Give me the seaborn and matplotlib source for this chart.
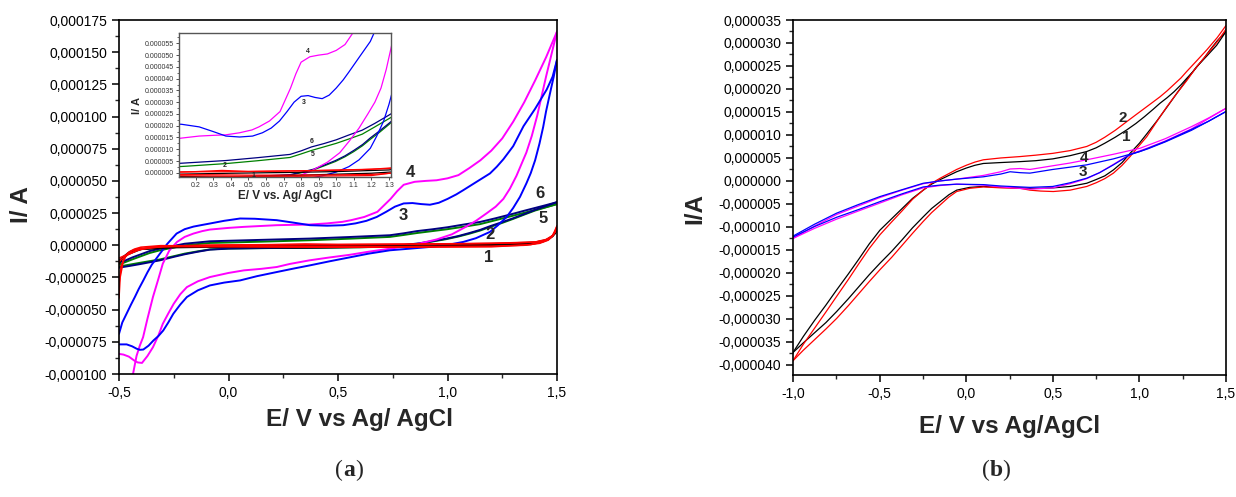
import matplotlib
matplotlib.use("Agg")
import matplotlib.pyplot as plt
import numpy as np
import pandas as pd
import seaborn as sns
from matplotlib.ticker import MultipleLocator, FuncFormatter
from matplotlib.offsetbox import TextArea, HPacker, AnchoredOffsetbox

# ---------------- Panel (a) data : E in V, I in microampere ----------------
# curve 1 (black)
a1_fwd_E = [-0.50, -0.48, -0.45, -0.40, -0.30, -0.10, 0.10, 0.30, 0.60, 0.90, 1.20, 1.35, 1.42, 1.46, 1.49, 1.50]
a1_fwd_I = [-14, -9, -5, -3, -1.8, -1.3, -1.5, -1.8, -1.5, -0.8, -0.2, 0.5, 2, 4.5, 9, 12]
a1_rev_E = [1.50, 1.48, 1.45, 1.40, 1.30, 1.00, 0.70, 0.40, 0.10, -0.20, -0.40, -0.46, -0.50]
a1_rev_I = [12, 7, 4, 2.2, 1.2, 0.5, 0.1, -0.2, -0.6, -1.0, -3, -7, -12]
# curve 2 (red, two cycles)
a2_fwd_E = [-0.50, -0.495, -0.48, -0.46, -0.43, -0.40, -0.31, -0.10, 0.20, 0.50, 0.80, 1.00, 1.20, 1.35, 1.42, 1.46, 1.48, 1.50]
a2_fwd_I = [-41, -25, -12, -6, -3, -1.5, -0.3, -0.5, -0.8, -1.0, -1.0, -0.9, -0.7, 0, 1.5, 4, 7.5, 15]
a2_rev_E = [1.50, 1.49, 1.47, 1.44, 1.40, 1.30, 1.10, 0.80, 0.50, 0.35, 0.20, 0.00, -0.20, -0.35, -0.42, -0.46, -0.49, -0.50]
a2_rev_I = [15, 10, 5.5, 3.5, 2.5, 1.8, 1.2, 0.8, 0.6, 1.0, 0.5, 0.2, -0.3, -1.5, -4, -7.5, -11, -13]
a2b_fwd_E = [-0.50, -0.49, -0.47, -0.44, -0.40, -0.30, 0.00, 0.40, 0.80, 1.20, 1.38, 1.44, 1.48, 1.50]
a2b_fwd_I = [-30, -16, -8, -4, -2.5, -1.0, -1.2, -1.5, -1.5, -1.2, 0.5, 3, 7, 13]
a2b_rev_E = [1.50, 1.48, 1.45, 1.40, 1.20, 0.90, 0.50, 0.20, -0.10, -0.30, -0.40, -0.46, -0.50]
a2b_rev_I = [13, 7.5, 4.5, 2.5, 1.5, 1.0, 0.5, 0.4, 0.0, -1.0, -3, -7, -10]
# curve 3 (blue)
a3_fwd_E = [-0.50, -0.485, -0.465, -0.445, -0.427, -0.41, -0.389, -0.37, -0.35, -0.313, -0.28, -0.237, -0.20, -0.16,
            -0.12, -0.085, -0.02, 0.053, 0.12, 0.22, 0.30, 0.372, 0.45, 0.524, 0.58, 0.63, 0.677, 0.72, 0.76, 0.80,
            0.84, 0.88, 0.92, 0.96, 1.00, 1.04, 1.072, 1.13, 1.194, 1.225, 1.255, 1.30, 1.347, 1.40, 1.453, 1.48, 1.50]
a3_fwd_I = [-68.8, -60, -53, -46, -40, -34, -27.3, -21, -15, -6.5, 1, 9.1, 12.5, 14.5,
            15.8, 16.9, 19, 20.8, 20.6, 19.5, 17.5, 15.6, 15.2, 15.6, 17, 19, 22, 26, 30, 32.5,
            32.8, 32, 31.5, 33, 36, 39.5, 42.8, 49, 55.8, 61, 66.8, 77, 92.5, 106, 121, 131, 144]
a3_rev_E = [1.50, 1.485, 1.468, 1.45, 1.437, 1.42, 1.40, 1.38, 1.36, 1.331, 1.30, 1.27, 1.23, 1.194, 1.13, 1.072,
            1.00, 0.92, 0.83, 0.737, 0.64, 0.55, 0.46, 0.372, 0.30, 0.22, 0.13, 0.053, -0.02, -0.085, -0.14, -0.19,
            -0.22, -0.252, -0.275, -0.298, -0.32, -0.343, -0.365, -0.389, -0.405, -0.419, -0.44, -0.465, -0.50]
a3_rev_I = [144, 131, 118, 104, 92, 79, 66, 56, 48, 37.6, 29, 22, 15.5, 10.4, 5.5, 2.6,
            0.3, -1.3, -2.6, -3.9, -6.5, -9.5, -12.5, -15.6, -18, -20.8, -24, -27.3, -29, -31.2, -35, -40.2,
            -46, -53.2, -60, -66.2, -70.5, -74, -78, -81, -81.2, -80.4, -78.5, -77, -77]
# curve 4 (magenta)
a4_fwd_E = [-0.44, -0.436, -0.42, -0.405, -0.39, -0.37, -0.345, -0.32, -0.30, -0.27, -0.235, -0.20, -0.16, -0.12,
            -0.085, 0.00, 0.07, 0.15, 0.22, 0.30, 0.37, 0.45, 0.52, 0.56, 0.62, 0.68, 0.71, 0.74, 0.77, 0.80, 0.85,
            0.90, 0.95, 1.00, 1.05, 1.10, 1.15, 1.20, 1.25, 1.30, 1.35, 1.40, 1.45, 1.50]
a4_fwd_I = [-112, -100, -86, -78, -71.4, -57, -40.2, -26, -14.3, -4, 2.6, 6.5, 9.1, 11,
            12.2, 13.5, 14.3, 15, 15.6, 15.9, 16.1, 17, 18.2, 19.5, 22, 26, 31, 36, 42, 47, 49.3,
            50, 50.5, 52, 54.5, 60, 66, 73.5, 83, 96, 111, 128, 146, 166]
a4_rev_E = [1.50, 1.47, 1.45, 1.43, 1.41, 1.385, 1.36, 1.335, 1.315, 1.285, 1.255, 1.22, 1.18, 1.13, 1.08, 1.02,
            0.95, 0.85, 0.74, 0.64, 0.55, 0.46, 0.37, 0.28, 0.22, 0.15, 0.07, 0.00, -0.085, -0.14, -0.19, -0.22,
            -0.25, -0.275, -0.30, -0.32, -0.345, -0.37, -0.395, -0.415, -0.43, -0.455, -0.48, -0.50]
a4_rev_I = [166, 145, 131, 116, 101, 85, 72, 62, 54, 44, 36, 30, 25, 19, 14, 8.5,
            4.5, 0.5, -2.6, -5, -7.5, -9.5, -11.7, -14.5, -16.9, -18.3, -19.5, -21.5, -24.7, -28, -32.5, -38,
            -45.4, -53, -61, -70, -79.2, -86, -91.4, -91, -89.6, -86.5, -84.9, -84.4]
# curve 5 (green)
a5_up_E = [1.50, 1.45, 1.40, 1.35, 1.30, 1.22, 1.148, 1.07, 1.00, 0.93, 0.86, 0.80, 0.737, 0.55, 0.372, 0.15,
           -0.085, -0.20, -0.313, -0.36, -0.40, -0.44, -0.50]
a5_up_I = [32, 29.7, 27.5, 25.2, 23, 19.5, 16.4, 14.3, 12.5, 11, 9.5, 8, 6.5, 5.1, 3.9, 2.8,
           1.8, 0.0, -3.9, -6, -8.5, -11, -15]
a5_lo_E = [-0.50, -0.45, -0.40, -0.313, -0.25, -0.20, -0.14, -0.085, 0.00, 0.15, 0.372, 0.60, 0.737, 0.80, 0.87,
           0.93, 0.996, 1.05, 1.10, 1.15, 1.194, 1.25, 1.30, 1.35, 1.40, 1.45, 1.50]
a5_lo_I = [-16.5, -15, -13.5, -11, -8.5, -6.5, -4.7, -3.2, -2.5, -2.2, -2.0, -1.5, -1.0, 0.0, 1.2,
           2.9, 4.8, 6.8, 9, 11.5, 14.2, 17.4, 20.5, 23.8, 27, 29.5, 32]
# curve 6 (navy)
a6_up_E = [1.50, 1.45, 1.40, 1.35, 1.30, 1.22, 1.148, 1.07, 1.00, 0.93, 0.86, 0.80, 0.737, 0.55, 0.372, 0.15,
           -0.085, -0.20, -0.313, -0.36, -0.40, -0.44, -0.48, -0.50]
a6_up_I = [33.5, 31.2, 29, 26.8, 24.5, 21, 18.1, 16, 14, 12.4, 11, 9.3, 7.8, 6.4, 5.2, 4.2,
           3.1, 1.2, -2.6, -4.5, -7, -9.5, -12.5, -13]
a6_lo_E = [-0.50, -0.45, -0.40, -0.313, -0.25, -0.20, -0.14, -0.085, 0.00, 0.15, 0.372, 0.60, 0.737, 0.80, 0.87,
           0.93, 0.996, 1.05, 1.10, 1.15, 1.194, 1.25, 1.30, 1.35, 1.40, 1.45, 1.50]
a6_lo_I = [-17.4, -16, -14.5, -11.7, -9, -7, -5, -3.4, -2.6, -2.2, -1.8, -1.3, -0.8, 0.2, 1.5,
           3.2, 5.2, 7.2, 9.5, 12, 14.8, 18, 21, 24.2, 27.5, 30.5, 33.5]

# ---------------- Panel (b) data ----------------
b1_up_E = [-1.00, -0.94, -0.875, -0.81, -0.748, -0.68, -0.62, -0.56, -0.498, -0.43, -0.37, -0.31, -0.248, -0.20,
           -0.15, -0.10, -0.055, 0.00, 0.05, 0.099, 0.20, 0.311, 0.40, 0.50, 0.60, 0.696, 0.75, 0.80, 0.86, 0.927,
           0.98, 1.03, 1.08, 1.119, 1.16, 1.20, 1.24, 1.273, 1.31, 1.34, 1.375, 1.408, 1.45, 1.50]
b1_up_I = [-37.3, -33.8, -30.3, -27, -23.7, -20.2, -17, -13.7, -10.7, -8.2, -6, -3.8, -2.0, -0.7,
           0.3, 1.2, 2.0, 2.8, 3.4, 3.8, 4.0, 4.2, 4.4, 4.8, 5.5, 6.4, 7.2, 8.2, 9.5, 11.1,
           12.5, 14, 15.6, 16.9, 18.1, 19.4, 20.9, 22.3, 23.8, 25.2, 26.8, 28.5, 30.5, 32.5]
b1_lo_E = [1.50, 1.446, 1.39, 1.33, 1.273, 1.215, 1.158, 1.10, 1.042, 1.00, 0.946, 0.90, 0.85, 0.80, 0.75, 0.696,
           0.60, 0.503, 0.43, 0.368, 0.30, 0.20, 0.099, 0.02, -0.055, -0.10, -0.15, -0.20, -0.248, -0.31, -0.37,
           -0.43, -0.498, -0.56, -0.62, -0.68, -0.748, -0.81, -0.875, -0.94, -1.00]
b1_lo_I = [32.5, 29.5, 27.2, 24.8, 22.0, 19.0, 16.0, 13.0, 10.2, 8.2, 6.0, 4.0, 2.4, 1.1, 0.3, -0.5,
           -1.2, -1.5, -1.6, -1.6, -1.5, -1.4, -1.2, -1.4, -2.0, -3.0, -4.5, -6.0, -7.8, -10.2, -12.8,
           -15.3, -17.9, -20.4, -23, -25.6, -28.4, -30.8, -33, -35.2, -37.3]
b2_up_E = [-1.00, -0.94, -0.875, -0.81, -0.748, -0.68, -0.62, -0.56, -0.498, -0.43, -0.37, -0.31, -0.248, -0.20,
           -0.15, -0.10, -0.055, 0.00, 0.05, 0.099, 0.20, 0.311, 0.40, 0.50, 0.60, 0.696, 0.75, 0.80, 0.86, 0.927,
           0.98, 1.03, 1.08, 1.119, 1.16, 1.20, 1.24, 1.273, 1.33, 1.389, 1.45, 1.50]
b2_up_I = [-39.1, -35.5, -32, -28.5, -25.1, -21.4, -18, -14.7, -11.7, -8.9, -6.5, -4.0, -2.0, -0.5,
           0.6, 1.6, 2.5, 3.4, 4.1, 4.6, 5.0, 5.3, 5.6, 6.0, 6.6, 7.5, 8.4, 9.5, 11.0, 12.9,
           14.4, 15.8, 17.2, 18.3, 19.6, 21, 22.4, 23.8, 26.1, 28.5, 31.2, 33.8]
b2_lo_E = [1.50, 1.45, 1.39, 1.33, 1.273, 1.215, 1.158, 1.10, 1.042, 0.99, 0.946, 0.90, 0.85, 0.80, 0.75, 0.696,
           0.60, 0.503, 0.43, 0.368, 0.311, 0.20, 0.099, 0.02, -0.055, -0.10, -0.15, -0.20, -0.248, -0.31, -0.37,
           -0.43, -0.498, -0.56, -0.62, -0.68, -0.748, -0.81, -0.875, -0.94, -1.00]
b2_lo_I = [33, 30.3, 27.5, 24.8, 21.8, 19, 16.1, 12.9, 9.6, 7.3, 5.3, 3.4, 1.7, 0.5, -0.4, -1.2,
           -2.0, -2.3, -2.2, -2.0, -1.6, -1.5, -1.3, -1.6, -2.3, -3.5, -5.2, -6.9, -8.8, -11.4, -14,
           -16.6, -19.3, -21.9, -24.5, -27.1, -29.9, -32.2, -34.5, -36.8, -39.1]
b3_up_E = [-1.00, -0.875, -0.748, -0.62, -0.498, -0.37, -0.248, -0.15, -0.055, 0.099, 0.20, 0.253, 0.311, 0.368, 0.50,
           0.60, 0.696, 0.85, 1.003, 1.15, 1.30, 1.40, 1.50]
b3_up_I = [-12.0, -9.4, -7.0, -5.1, -3.4, -1.9, -0.5, 0.0, 0.4, 0.9, 1.5, 2.0, 1.8, 1.7, 2.5,
           3.0, 3.5, 4.8, 6.4, 8.6, 11.2, 13, 15.1]
b3_lo_E = [1.50, 1.40, 1.30, 1.15, 1.05, 0.946, 0.85, 0.77, 0.696, 0.60, 0.50, 0.368, 0.20, 0.099, -0.055, -0.15,
           -0.248, -0.37, -0.498, -0.62, -0.748, -0.875, -1.00]
b3_lo_I = [15.1, 13, 11, 8.5, 7.0, 5.7, 3.5, 1.8, 0.6, -0.4, -1.2, -1.4, -1.1, -0.8, -0.7, -0.9,
           -1.3, -2.8, -4.5, -6.2, -7.9, -9.9, -12.2]
b4_up_E = b3_up_E
b4_up_I = [-12.5, -9.8, -7.3, -5.4, -3.6, -2.0, -0.6, 0.0, 0.4, 1.2, 2.0, 2.6, 2.7, 2.5, 3.3,
           3.9, 4.6, 5.8, 7.1, 9.2, 11.8, 13.7, 15.8]
b4_lo_E = b3_lo_E
b4_lo_I = [15.8, 13.6, 11.3, 8.7, 7.2, 5.8, 3.6, 1.8, 0.5, -0.6, -1.5, -1.8, -1.3, -0.9, -0.7, -1.0,
           -1.5, -3.0, -4.8, -6.5, -8.3, -10.3, -12.5]

# curve labels (text annotations, E, I in microampere)
a_labels = [("4", 0.829, 56.9), ("3", 0.797, 23.4), ("6", 1.422, 40.5), ("5", 1.436, 21.0),
            ("2", 1.194, 8.6), ("1", 1.189, -9.3)]
inset_labels = [("4", 0.84, 51.6), ("3", 0.817, 29.9), ("6", 0.86, 13.2), ("5", 0.865, 7.9),
                ("2", 0.367, 3.0), ("1", 0.527, -1.3)]
b_labels = [("2", 0.905, 13.7), ("1", 0.923, 9.6), ("4", 0.68, 5.0), ("3", 0.674, 2.0)]


def build(segments):
    rows = []
    for curve, seg, E, I in segments:
        for k, (e, i) in enumerate(zip(E, I)):
            rows.append({"curve": curve, "seg": seg, "k": k, "E": e, "I": i * 1e-6})
    return pd.DataFrame(rows)


df_a = build([
    ("5", "5u", a5_up_E, a5_up_I), ("5", "5l", a5_lo_E, a5_lo_I),
    ("6", "6u", a6_up_E, a6_up_I), ("6", "6l", a6_lo_E, a6_lo_I),
    ("4", "4f", a4_fwd_E, a4_fwd_I), ("4", "4r", a4_rev_E, a4_rev_I),
    ("3", "3f", a3_fwd_E, a3_fwd_I), ("3", "3r", a3_rev_E, a3_rev_I),
    ("1", "1f", a1_fwd_E, a1_fwd_I), ("1", "1r", a1_rev_E, a1_rev_I),
    ("2", "2f", a2_fwd_E, a2_fwd_I), ("2", "2r", a2_rev_E, a2_rev_I),
    ("2", "2bf", a2b_fwd_E, a2b_fwd_I), ("2", "2br", a2b_rev_E, a2b_rev_I),
])
pal_a = {"1": "#000000", "2": "#ff0000", "3": "#0000ff", "4": "#ff00ff", "5": "#008000", "6": "#000080"}
order_a = ["5", "6", "4", "3", "1", "2"]

df_b = build([
    ("1", "1u", b1_up_E, b1_up_I), ("1", "1l", b1_lo_E, b1_lo_I),
    ("2", "2u", b2_up_E, b2_up_I), ("2", "2l", b2_lo_E, b2_lo_I),
    ("4", "4u", b4_up_E, b4_up_I), ("4", "4l", b4_lo_E, b4_lo_I),
    ("3", "3u", b3_up_E, b3_up_I), ("3", "3l", b3_lo_E, b3_lo_I),
])
pal_b = {"1": "#000000", "2": "#ff0000", "3": "#0000ff", "4": "#ff00ff"}
order_b = ["1", "2", "4", "3"]

sns.set_theme(style="ticks")
plt.rcParams["font.family"] = ["Liberation Sans", "DejaVu Sans"]
plt.rcParams["axes.linewidth"] = 1.2
plt.rcParams["lines.solid_joinstyle"] = "round"

fig = plt.figure(figsize=(12.36, 4.97), dpi=100)
fig.patch.set_facecolor("white")


def comma_fmt(dec):
    def f(v, pos):
        if abs(v) < 1e-12:
            v = 0.0
        return f"{v:.{dec}f}".replace(".", ",")
    return FuncFormatter(f)


def dot_fmt(dec):
    def f(v, pos):
        if abs(v) < 1e-12:
            v = 0.0
        return f"{v:.{dec}f}"
    return FuncFormatter(f)


def style_axes(ax):
    for s in ax.spines.values():
        s.set_visible(True)
        s.set_color("black")
        s.set_linewidth(1.2)
    ax.tick_params(which="major", direction="out", length=5, width=1.1, labelsize=10, colors="black",
                   top=False, right=False)
    ax.tick_params(which="minor", direction="out", length=3, width=1.0, top=False, right=False)
    ax.set_facecolor("white")
    ax.grid(False)


# ---------------- Panel (a) ----------------
axA = fig.add_axes([119 / 1236, 1 - 374 / 497, 438 / 1236, 354 / 497])
sns.lineplot(data=df_a, x="E", y="I", hue="curve", hue_order=order_a, units="seg", estimator=None,
             sort=False, palette=pal_a, lw=1.4, legend=False, ax=axA)
for ln in axA.get_lines():
    if matplotlib.colors.to_hex(ln.get_color()) == "#ff0000":
        ln.set_linewidth(1.15)
axA.set_xlim(-0.5, 1.5)
axA.set_ylim(-0.0001, 0.000175)
axA.xaxis.set_major_locator(MultipleLocator(0.5))
axA.xaxis.set_minor_locator(MultipleLocator(0.25))
axA.yaxis.set_major_locator(MultipleLocator(0.000025))
axA.yaxis.set_minor_locator(MultipleLocator(0.0000125))
axA.xaxis.set_major_formatter(comma_fmt(1))
axA.yaxis.set_major_formatter(comma_fmt(6))
style_axes(axA)
axA.set_xlabel("E/ V vs Ag/ AgCl", fontsize=17.5, fontweight="bold")
axA.set_ylabel("I/ A", fontsize=17.5, fontweight="bold")
axA.xaxis.set_label_coords(0.548, -0.097)
axA.yaxis.set_label_coords(-0.196, 0.48)
for t, e, i in a_labels:
    axA.text(e, i * 1e-6, t, fontsize=12, fontweight="bold", ha="center", va="center")

# inset
axI = fig.add_axes([179 / 1236, 1 - 177 / 497, 211.5 / 1236, 144 / 497])
axI.set_zorder(5)
sns.lineplot(data=df_a, x="E", y="I", hue="curve", hue_order=order_a, units="seg", estimator=None,
             sort=False, palette=pal_a, lw=0.9, legend=False, ax=axI)
axI.set_xlim(0.105, 1.309)
axI.set_ylim(-0.0000018, 0.0000594)
axI.xaxis.set_major_locator(MultipleLocator(0.1))
axI.yaxis.set_major_locator(MultipleLocator(0.000005))
axI.yaxis.set_minor_locator(MultipleLocator(0.0000025))
axI.xaxis.set_major_formatter(dot_fmt(1))
axI.yaxis.set_major_formatter(dot_fmt(6))
for s in axI.spines.values():
    s.set_visible(True)
    s.set_color("#555555")
    s.set_linewidth(1.0)
axI.set_facecolor("white")
axI.tick_params(which="major", direction="out", length=2, width=0.6, labelsize=5, colors="#333333", pad=1.5)
axI.tick_params(which="minor", direction="out", length=1.2, width=0.5, colors="#333333")
axI.set_xlabel("E/ V vs. Ag/ AgCl", fontsize=8.5, fontweight="bold", labelpad=1)
axI.set_ylabel("I/ A", fontsize=8, fontweight="bold", labelpad=2)
for t, e, i in inset_labels:
    axI.text(e, i * 1e-6, t, fontsize=5, fontweight="bold", ha="center", va="center")

# ---------------- Panel (b) ----------------
axB = fig.add_axes([793 / 1236, 1 - 375 / 497, 433 / 1236, 355 / 497])
sns.lineplot(data=df_b, x="E", y="I", hue="curve", hue_order=order_b, units="seg", estimator=None,
             sort=False, palette=pal_b, lw=0.9, legend=False, ax=axB)
axB.set_xlim(-1.0, 1.5)
axB.set_ylim(-0.0000422, 0.000035)
axB.xaxis.set_major_locator(MultipleLocator(0.5))
axB.xaxis.set_minor_locator(MultipleLocator(0.25))
axB.yaxis.set_major_locator(MultipleLocator(0.000005))
axB.yaxis.set_minor_locator(MultipleLocator(0.0000025))
axB.xaxis.set_major_formatter(comma_fmt(1))
axB.yaxis.set_major_formatter(comma_fmt(6))
style_axes(axB)
axB.set_xlabel("E/ V vs Ag/AgCl", fontsize=17.5, fontweight="bold")
axB.set_ylabel("I/A", fontsize=17.5, fontweight="bold")
axB.xaxis.set_label_coords(0.499, -0.113)
axB.yaxis.set_label_coords(-0.199, 0.468)
for t, e, i in b_labels:
    axB.text(e, i * 1e-6, t, fontsize=11, fontweight="bold", ha="center", va="center")


def caption(x, y, letter):
    parts = [TextArea("(", textprops=dict(family="Liberation Serif", size=17)),
             TextArea(letter, textprops=dict(family="Liberation Serif", size=17, weight="bold")),
             TextArea(")", textprops=dict(family="Liberation Serif", size=17))]
    box = HPacker(children=parts, align="baseline", pad=0, sep=0)
    ab = AnchoredOffsetbox(loc="center", child=box, frameon=False, bbox_to_anchor=(x, y),
                           bbox_transform=fig.transFigure, borderpad=0, pad=0)
    fig.add_artist(ab)


caption(349 / 1236, 1 - 470 / 497, "a")
caption(996 / 1236, 1 - 470 / 497, "b")

fig.savefig("out.png", dpi=100, facecolor="white")
